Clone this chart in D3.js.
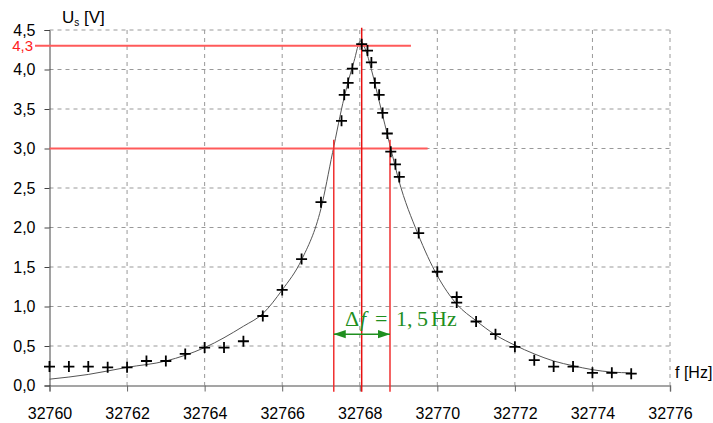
<!DOCTYPE html>
<html>
<head>
    <meta charset="utf-8">
    <script src="https://d3js.org/d3.v7.min.js"></script>
    <style>
        body { margin: 0; background: #fff; }
        svg { display: block; }
    </style>
</head>
<body>
    <svg id="chart"></svg>
    <script>
        // measured points (f in Hz, Us in V)
        const measFreq = [32760, 32760.5, 32761, 32761.5, 32762, 32762.5, 32763, 32763.5, 32764, 32764.5,
            32765, 32765.5, 32766, 32766.5, 32767, 32767.53, 32767.6, 32767.7, 32767.81, 32768.05,
            32768.2, 32768.3, 32768.39, 32768.5, 32768.59, 32768.71, 32768.8, 32768.92, 32769.02, 32769.52,
            32770, 32770.5, 32770.5, 32771, 32771.5, 32772, 32772.5, 32773, 32773.5, 32774, 32774.5, 32775];
        const measVolt = [0.24, 0.24, 0.24, 0.23, 0.23, 0.31, 0.31, 0.40, 0.48, 0.48,
            0.56, 0.88, 1.21, 1.60, 2.32, 3.35, 3.68, 3.83, 4.01, 4.32,
            4.24, 4.09, 3.83, 3.68, 3.45, 3.19, 2.96, 2.80, 2.64, 1.93,
            1.44, 1.12, 1.05, 0.81, 0.65, 0.49, 0.32, 0.24, 0.24, 0.16, 0.16, 0.15];

        // fitted curve
        const fitFreq = [32760, 32761, 32762, 32763, 32764, 32765, 32765.5, 32766, 32766.5, 32767,
            32767.3, 32767.6, 32767.85, 32768.02, 32768.15, 32768.3, 32768.5, 32768.8, 32769, 32769.5,
            32770, 32770.5, 32771, 32771.5, 32772, 32772.5, 32773, 32773.5, 32774, 32774.5, 32775];
        const fitVolt = [0.08, 0.14, 0.23, 0.31, 0.48, 0.75, 0.91, 1.21, 1.59, 2.24,
            2.95, 3.65, 4.1, 4.36, 4.25, 4.0, 3.6, 3.0, 2.61, 1.92,
            1.39, 1.03, 0.82, 0.64, 0.51, 0.40, 0.31, 0.25, 0.20, 0.17, 0.16];

        const xTicks = [32760, 32762, 32764, 32766, 32768, 32770, 32772, 32774, 32776];
        const yTicks = [0, 0.5, 1, 1.5, 2, 2.5, 3, 3.5, 4, 4.5];

        // marked values
        const peakVolt = 4.3;
        const peakFreq = 32768.05;
        const halfVolt = 3.0;
        const lowFreq = 32767.33;
        const highFreq = 32768.78;

        const width = 713, height = 423;
        const svg = d3.select("#chart").attr("width", width).attr("height", height);

        const x = d3.scaleLinear().domain([32760, 32776]).range([49.5, 670]);
        const y = d3.scaleLinear().domain([0, 4.5]).range([385.5, 30]);

        const fmt = d => d3.format(".1f")(d).replace(".", ",");
        const sans = "Liberation Sans, Arial, sans-serif";

        // grid
        const grid = svg.append("g").attr("stroke", "#999").attr("stroke-width", 1).attr("stroke-dasharray", "4,4");
        grid.selectAll(".gx").data(xTicks.slice(1)).enter().append("line")
            .attr("x1", d => x(d)).attr("x2", d => x(d))
            .attr("y1", y(4.5)).attr("y2", y(0));
        grid.selectAll(".gy").data(yTicks.slice(1)).enter().append("line")
            .attr("x1", x(32760)).attr("x2", x(32776))
            .attr("y1", d => y(d)).attr("y2", d => y(d));

        // x axis
        const xAxis = svg.append("g")
            .attr("transform", `translate(0,${y(0)})`)
            .call(d3.axisBottom(x).tickValues(xTicks).tickSize(6).tickPadding(16).tickFormat(d3.format("d")));
        xAxis.select(".domain").attr("stroke", "#888").attr("stroke-width", 1.5);
        xAxis.selectAll(".tick line").attr("stroke", "#666");
        xAxis.selectAll("text").attr("font-family", sans).attr("font-size", 16).attr("fill", "#000");

        // y axis
        const yAxis = svg.append("g")
            .attr("transform", `translate(${x(32760)},0)`)
            .call(d3.axisLeft(y).tickValues(yTicks).tickSize(5).tickPadding(9).tickFormat(fmt));
        yAxis.select(".domain").attr("stroke", "#444").attr("stroke-width", 1);
        yAxis.selectAll(".tick line").attr("stroke", "#444");
        yAxis.selectAll("text").attr("font-family", sans).attr("font-size", 16).attr("fill", "#000");

        // axis titles
        const us = svg.append("text").attr("x", 62).attr("y", 23)
            .attr("font-family", sans).attr("font-size", 17);
        us.append("tspan").text("U");
        us.append("tspan").attr("font-size", 10).attr("dy", 3).text("s");
        us.append("tspan").attr("dy", -3).text(" [V]");

        svg.append("text").attr("x", 675).attr("y", 378)
            .attr("font-family", sans).attr("font-size", 16)
            .text("f [Hz]");

        // fitted curve
        const fit = fitFreq.map((f, i) => [f, fitVolt[i]]);
        svg.append("path").datum(fit)
            .attr("fill", "none").attr("stroke", "#555").attr("stroke-width", 1)
            .attr("d", d3.line().x(d => x(d[0])).y(d => y(d[1])).curve(d3.curveMonotoneX));

        // red marker lines
        const red = svg.append("g");
        red.append("line").attr("x1", 35).attr("x2", x(32769.32))
            .attr("y1", y(peakVolt)).attr("y2", y(peakVolt))
            .attr("stroke", "#ff5a5a").attr("stroke-width", 2);
        red.append("line").attr("x1", x(32760)).attr("x2", x(32769.75))
            .attr("y1", y(halfVolt)).attr("y2", y(halfVolt))
            .attr("stroke", "#ff5a5a").attr("stroke-width", 2);
        [lowFreq, highFreq].forEach(f => {
            red.append("line").attr("x1", x(f)).attr("x2", x(f))
                .attr("y1", y(3.11)).attr("y2", y(-0.08))
                .attr("stroke", "#f03030").attr("stroke-width", 1.5);
        });
        red.append("line").attr("x1", x(peakFreq)).attr("x2", x(peakFreq))
            .attr("y1", y(4.53)).attr("y2", y(-0.08))
            .attr("stroke", "#e81010").attr("stroke-width", 1.5);

        svg.append("text").attr("x", 33).attr("y", y(peakVolt) + 5)
            .attr("text-anchor", "end").attr("fill", "#ff2020")
            .attr("font-family", sans).attr("font-size", 15)
            .text("4,3");

        // delta f arrow
        const green = "#1f8f1f";
        const defs = svg.append("defs");
        ["s", "e"].forEach(k => {
            defs.append("marker").attr("id", "arr" + k)
                .attr("viewBox", "0 0 10 10").attr("refX", 10).attr("refY", 5)
                .attr("markerWidth", 8).attr("markerHeight", 8)
                .attr("orient", k === "e" ? "auto" : "auto-start-reverse")
                .append("path").attr("d", "M0,1.5 L10,5 L0,8.5 Z").attr("fill", green);
        });
        svg.append("line").attr("x1", x(lowFreq)).attr("x2", x(highFreq))
            .attr("y1", y(0.65)).attr("y2", y(0.65))
            .attr("stroke", green).attr("stroke-width", 1.5)
            .attr("marker-start", "url(#arrs)").attr("marker-end", "url(#arre)");

        // label pieces spaced like the typeset original
        const lbl = svg.append("text").attr("y", 326)
            .attr("fill", green).attr("font-family", "Liberation Serif, DejaVu Serif, serif").attr("font-size", 22);
        lbl.append("tspan").attr("x", 345).text("Δ");
        lbl.append("tspan").attr("x", 360).attr("font-style", "italic").text("f");
        lbl.append("tspan").attr("x", 375).text("=");
        lbl.append("tspan").attr("x", 396).text("1,");
        lbl.append("tspan").attr("x", 417).text("5");
        lbl.append("tspan").attr("x", 431).text("Hz");

        // measured crosses
        const meas = measFreq.map((f, i) => [f, measVolt[i]]);
        const s = 5.5;
        svg.append("g").selectAll("path").data(meas).enter().append("path")
            .attr("d", d => `M${x(d[0]) - s},${y(d[1])}H${x(d[0]) + s}M${x(d[0])},${y(d[1]) - s}V${y(d[1]) + s}`)
            .attr("stroke", "#000").attr("stroke-width", 1.8).attr("fill", "none");
    </script>
</body>
</html>
